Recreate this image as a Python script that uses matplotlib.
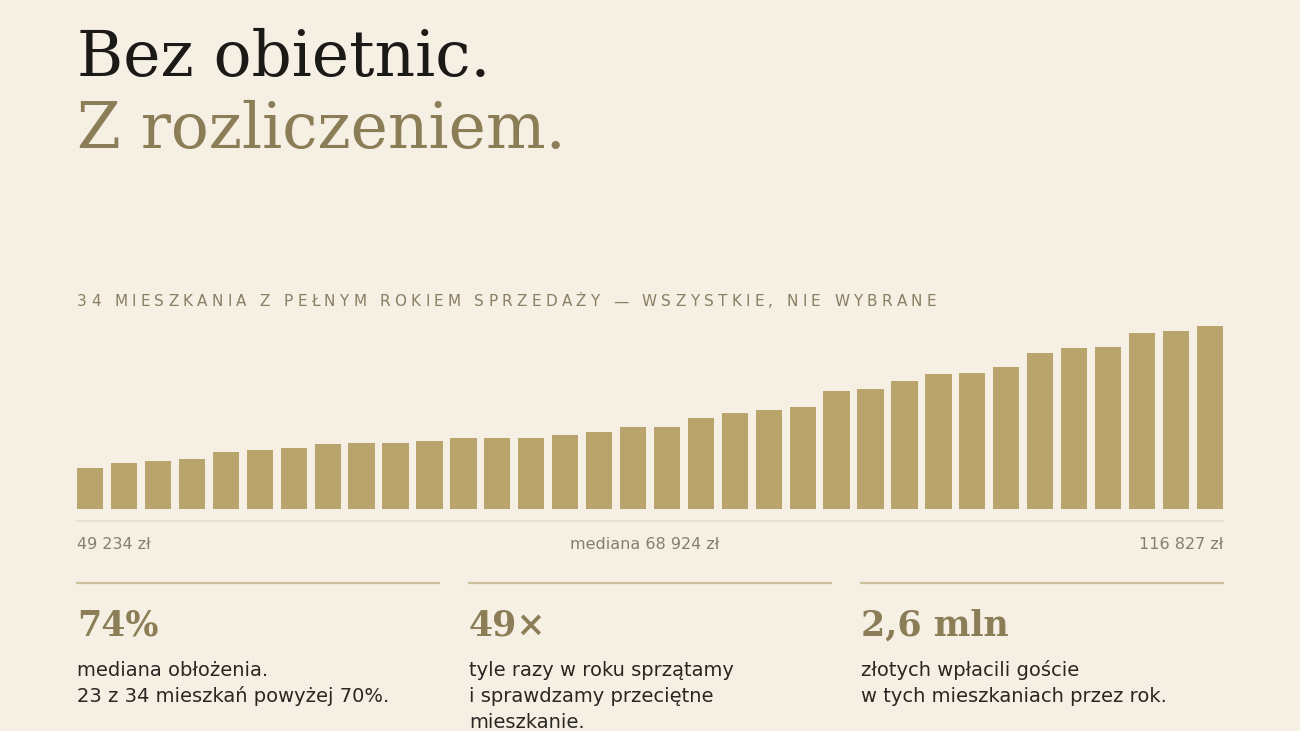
import matplotlib
matplotlib.use("Agg")
import matplotlib.pyplot as plt
from matplotlib.lines import Line2D
import numpy as np

W, H = 1300, 731
BG = "#f5efe4"
BAR = "#b9a46c"
GOLD_TXT = "#8b7d56"
INK = "#1c1a17"
BODY = "#2a2723"
MUTED = "#857e72"

title_1 = "Bez obietnic."
title_2 = "Z rozliczeniem."
subtitle = "34 MIESZKANIA Z PEŁNYM ROKIEM SPRZEDAŻY — WSZYSTKIE, NIE WYBRANE"

# roczny przychód z mieszkania (zł), posortowane rosnąco
revenue = [49234, 51600, 52700, 53800, 57200, 57800, 59100, 60800, 61300, 61400,
           62400, 63500, 63600, 63700, 65300, 66400, 68800, 69048, 73400, 75600,
           76800, 78600, 86000, 87200, 90600, 94000, 94500, 97300, 104300, 106500,
           107100, 113500, 114600, 116827]

stat_values = ["74%", "49×", "2,6 mln"]
stat_texts = [
    ["mediana obłożenia.", "23 z 34 mieszkań powyżej 70%."],
    ["tyle razy w roku sprzątamy", "i sprawdzamy przeciętne", "mieszkanie."],
    ["złotych wpłacili goście", "w tych mieszkaniach przez rok."],
]


def fx(px):
    return px / W


def fy(py):
    return 1 - py / H


def zl(v):
    return f"{int(round(v)):,}".replace(",", " ") + " zł"


fig = plt.figure(figsize=(W / 100, H / 100), dpi=100, facecolor=BG)

# tytuł
fig.text(fx(77), fy(76), title_1, family="DejaVu Serif", fontsize=45.4,
         color=INK, va="baseline")
fig.text(fx(77), fy(148), title_2, family="DejaVu Serif", fontsize=45.4,
         color=GOLD_TXT, va="baseline")

# podtytuł z rozstrzeleniem liter
fig.canvas.draw()
r = fig.canvas.get_renderer()
sub_kw = dict(family="DejaVu Sans", fontsize=11)


def text_w(s):
    t = fig.text(0, 0, s, **sub_kw)
    w = t.get_window_extent(renderer=r).width
    t.remove()
    return w


bar_w = text_w("|")
natural = text_w(subtitle)
tracking = (859 - natural) / (len(subtitle) - 1)
for i, ch in enumerate(subtitle):
    if ch == " ":
        continue
    off = text_w(subtitle[:i] + "|") - bar_w if i else 0
    fig.text(fx(77 + off + i * tracking), fy(306.5), ch, color="#8a7f62",
             va="baseline", **sub_kw)

# wykres słupkowy
x_left, x_right = 77, 1223
base_y, top_y = 509.3, 326.3
ax = fig.add_axes([fx(x_left), fy(base_y), (x_right - x_left) / W, (base_y - top_y) / H])
ax.set_facecolor("none")
width = 0.775
x = np.arange(len(revenue))
ax.bar(x, revenue, width=width, color=BAR, linewidth=0)
ax.set_xlim(-width / 2, len(revenue) - 1 + width / 2)
ax.set_ylim(29700, max(revenue))
ax.axis("off")

fig.add_artist(Line2D([fx(x_left), fx(x_right)], [fy(520.7), fy(520.7)],
                      color="#e7dfcf", lw=1.5))

lab_kw = dict(family="DejaVu Sans", fontsize=11.5, color=MUTED, va="baseline")
fig.text(fx(x_left), fy(549), zl(min(revenue)), ha="left", **lab_kw)
fig.text(fx(645), fy(549), "mediana " + zl(np.median(revenue)), ha="center", **lab_kw)
fig.text(fx(x_right), fy(549), zl(max(revenue)), ha="right", **lab_kw)

# trzy kolumny z liczbami
col_x = [77, 469, 861]
col_w = 362
for cx, val, lines in zip(col_x, stat_values, stat_texts):
    fig.add_artist(Line2D([fx(cx), fx(cx + col_w)], [fy(583.3), fy(583.3)],
                          color="#cdbf98", lw=1.6))
    fig.text(fx(cx), fy(636), val, family="DejaVu Serif", fontweight="bold",
             fontsize=25, color=GOLD_TXT, va="baseline")
    for j, line in enumerate(lines):
        fig.text(fx(cx), fy(675.5 + j * 26.5), line, family="DejaVu Sans",
                 fontsize=14, color=BODY, va="baseline")

fig.savefig("out.png", dpi=100, facecolor=BG)
